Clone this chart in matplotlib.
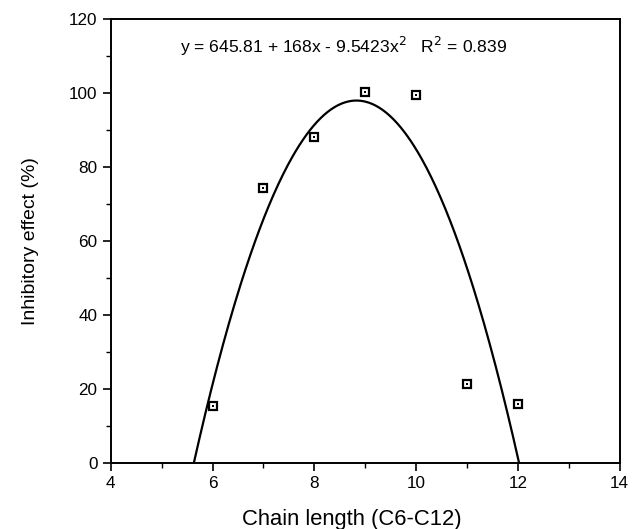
import numpy as np
import matplotlib
matplotlib.use('Agg')
import matplotlib.pyplot as plt
from matplotlib.ticker import MultipleLocator

plt.rcParams['font.family'] = ['Liberation Sans', 'DejaVu Sans']

# data
chain = [6, 7, 8, 9, 10, 11, 12]
effect = [15.5, 74.3, 88.0, 100.3, 99.5, 21.4, 16.0]
eq_text = 'y = 645.81 + 168x - 9.5423x$^2$   R$^2$ = 0.839'

fig = plt.figure(figsize=(6.33, 5.29), dpi=100)
ax = fig.add_axes([0.175, 0.125, 0.804, 0.839])

# second order fit drawn as the curve
coef = np.polyfit(chain, effect, 2)
xs = np.linspace(5.4, 12.3, 300)
ax.plot(xs, np.polyval(coef, xs), color='black', lw=1.6)

ax.plot(chain, effect, 's', ms=6, mfc='white', mec='black', mew=1.6)
ax.plot(chain, effect, 's', ms=1.6, mfc='black', mec='black', mew=0)

ax.text(8.57, 112.6, eq_text, ha='center', va='center', fontsize=12.6)

ax.set_xlim(4, 14)
ax.set_ylim(0, 120)
ax.xaxis.set_major_locator(MultipleLocator(2))
ax.xaxis.set_minor_locator(MultipleLocator(1))
ax.yaxis.set_major_locator(MultipleLocator(20))
ax.yaxis.set_minor_locator(MultipleLocator(10))
ax.tick_params(which='major', direction='out', length=6, width=1.2, labelsize=12.3)
ax.tick_params(which='minor', direction='out', length=3.5, width=1.0)
for s in ax.spines.values():
    s.set_linewidth(1.4)

ax.set_xlabel('Chain length (C6-C12)', fontsize=15.8, labelpad=12)
ax.xaxis.set_label_coords(0.473, -0.105)
ax.set_ylabel('Inhibitory effect (%)', fontsize=14, labelpad=22)

fig.savefig('out.png', dpi=100)
